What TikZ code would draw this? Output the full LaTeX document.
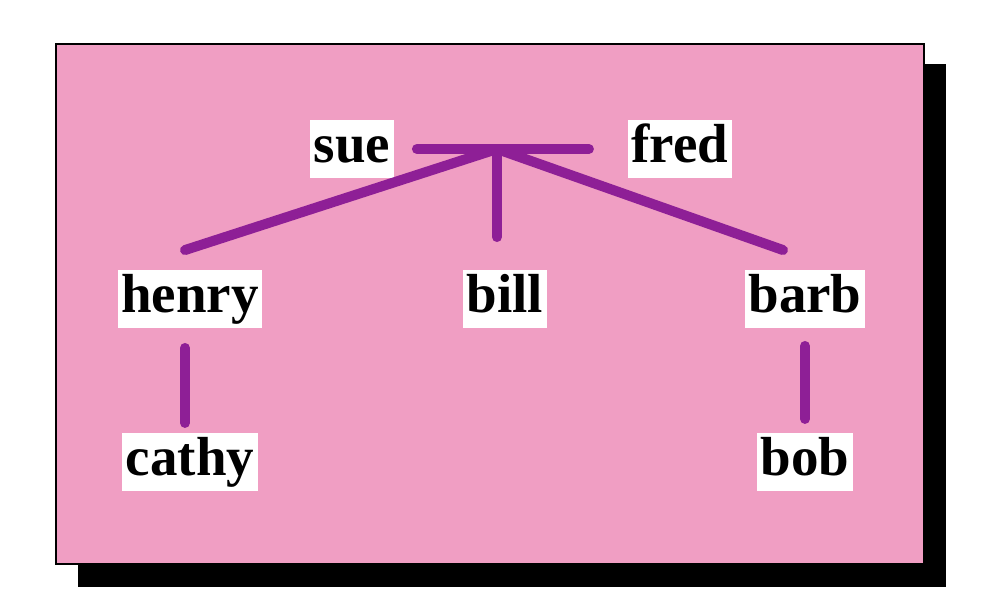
\documentclass[tikz,border=0pt]{standalone}
\usepackage{fontspec}
\setmainfont{Liberation Serif}
\usetikzlibrary{positioning}
\definecolor{pinkbg}{RGB}{240,158,195}
\definecolor{plum}{RGB}{142,31,150}
\tikzset{
  person/.style={fill=white,inner xsep=3.5pt,inner ysep=4pt,text height=38pt,text depth=11.5pt,font=\fontsize{55}{62}\selectfont\bfseries},
  link/.style={draw=plum,line width=10pt,line cap=round}
}
\begin{document}
\begin{tikzpicture}[x=1pt,y=-1pt]
                    \useasboundingbox (0,0) rectangle (1004,592);
                    \fill[black] (78,64) rectangle (946,587);
                    \filldraw[fill=pinkbg,draw=black,line width=1.5pt] (56,44) rectangle (924,564);
                    \node[person] (sue) at (352,149) {sue};
                    \node[person] (fred) at (680,149) {fred};
                    \node[person] (henry) at (190,299) {henry};
                    \node[person] (bill) at (505,299) {bill};
                    \node[person] (barb) at (805,299) {barb};
                    \node[person,below=105pt of henry] (cathy) {cathy};
                    \node[person,below=105pt of barb] (bob) {bob};
                    \coordinate (hub) at (497,149);
                    \draw[link,shorten <=23pt,shorten >=39pt] (sue) -- (fred);
                    \draw[link] (hub) -- ([xshift=-5pt,yshift=20pt]henry.north);
                    \draw[link,shorten >=33pt] (hub) -- (hub |- bill.north);
                    \draw[link] (hub) -- ([xshift=-22pt,yshift=20pt]barb.north);
                    \draw[link,shorten <=20pt,shorten >=10pt] ([xshift=-5pt]henry.south) -- ([xshift=-5pt]henry.south |- cathy.north);
                    \draw[link,shorten <=18pt,shorten >=14pt] (barb) -- (bob);
                \end{tikzpicture}
\end{document}
